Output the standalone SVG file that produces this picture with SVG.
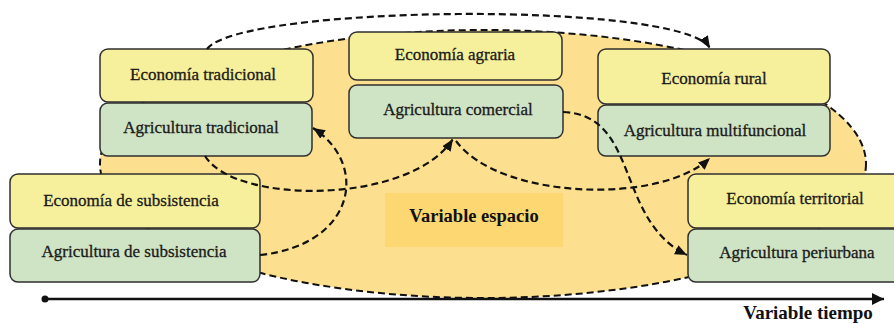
<svg xmlns="http://www.w3.org/2000/svg" width="894" height="324" viewBox="0 0 894 324">
<style>
.eco{fill:#F6EF9B;stroke:#2f2f2f;stroke-width:1.5}
.agr{fill:#CFE3C5;stroke:#2f2f2f;stroke-width:1.5}
.t{font-size:17px;fill:#1a1a1a;stroke:#1a1a1a;stroke-width:0.3;text-anchor:middle}
.b{font-weight:bold;fill:#111;text-anchor:middle}
.dash{fill:none;stroke:#111;stroke-width:2.2;stroke-dasharray:7 4}
</style>
<defs>
<marker id="ah" markerUnits="userSpaceOnUse" markerWidth="14" markerHeight="12" refX="12" refY="5" orient="auto">
<path d="M0,0 L12,5 L0,10 Z" fill="#111"/>
</marker>
<marker id="ax" markerUnits="userSpaceOnUse" markerWidth="14" markerHeight="14" refX="12" refY="6" orient="auto">
<path d="M0,0 L12,6 L0,12 Z" fill="#111"/>
</marker>
</defs>
<rect width="894" height="324" fill="#fff"/>
<g font-family="'Liberation Serif', 'Times New Roman', serif">
<g id="space">
<ellipse cx="483" cy="164" rx="383" ry="134" fill="#FDE08F" stroke="#111" stroke-width="2" stroke-dasharray="7 4"/>
<rect x="385" y="193" width="178" height="54" fill="#FDD872"/>
<text class="b" x="474" y="222" font-size="18.5">Variable espacio</text>
</g>
<g id="timeline">
<line x1="45" y1="299" x2="884" y2="299" stroke="#111" stroke-width="2.5" marker-end="url(#ax)"/>
<circle cx="45" cy="299" r="3.5" fill="#111"/>
<text class="b" x="808" y="319" font-size="19">Variable tiempo</text>
</g>
<g id="n-eco-trad"><rect class="eco" x="100" y="49" width="213" height="53" rx="8"/><text class="t" x="203" y="80">Economía tradicional</text></g>
<g id="n-agr-trad"><rect class="agr" x="100" y="103" width="212" height="53" rx="8"/><text class="t" x="201" y="133">Agricultura tradicional</text></g>
<g id="n-eco-agraria"><rect class="eco" x="349" y="32" width="213" height="48" rx="8"/><text class="t" x="455" y="60">Economía agraria</text></g>
<g id="n-agr-com"><rect class="agr" x="349" y="85" width="214" height="53" rx="8"/><text class="t" x="458" y="115">Agricultura comercial</text></g>
<g id="n-eco-rural"><rect class="eco" x="598" y="49" width="232" height="55" rx="8"/><text class="t" x="714" y="84">Economía rural</text></g>
<g id="n-agr-multi"><rect class="agr" x="598" y="105" width="232" height="51" rx="8"/><text class="t" x="715" y="135.5">Agricultura multifuncional</text></g>
<g id="n-eco-subs"><rect class="eco" x="10" y="174" width="250" height="54" rx="8"/><text class="t" x="131" y="206">Economía de subsistencia</text></g>
<g id="n-agr-subs"><rect class="agr" x="10" y="229" width="250" height="53" rx="8"/><text class="t" x="134" y="257">Agricultura de subsistencia</text></g>
<g id="n-eco-terr"><rect class="eco" x="688" y="174" width="216" height="54" rx="8"/><text class="t" x="795" y="204">Economía territorial</text></g>
<g id="n-agr-peri"><rect class="agr" x="688" y="229" width="216" height="53" rx="8"/><text class="t" x="797" y="258">Agricultura periurbana</text></g>
</g>
<g id="connectors">
<path class="dash" d="M207 49 C240 5 680 0 710 48" marker-end="url(#ah)"/>
<path class="dash" d="M205 156 C235 205 410 205 453 139" marker-end="url(#ah)"/>
<path class="dash" d="M260 255 C355 245 370 165 313 128" marker-end="url(#ah)"/>
<path class="dash" d="M456 141 C500 200 660 205 710 158" marker-end="url(#ah)"/>
<path class="dash" d="M563 112 C640 115 615 220 687 255" marker-end="url(#ah)"/>
</g>
</svg>
